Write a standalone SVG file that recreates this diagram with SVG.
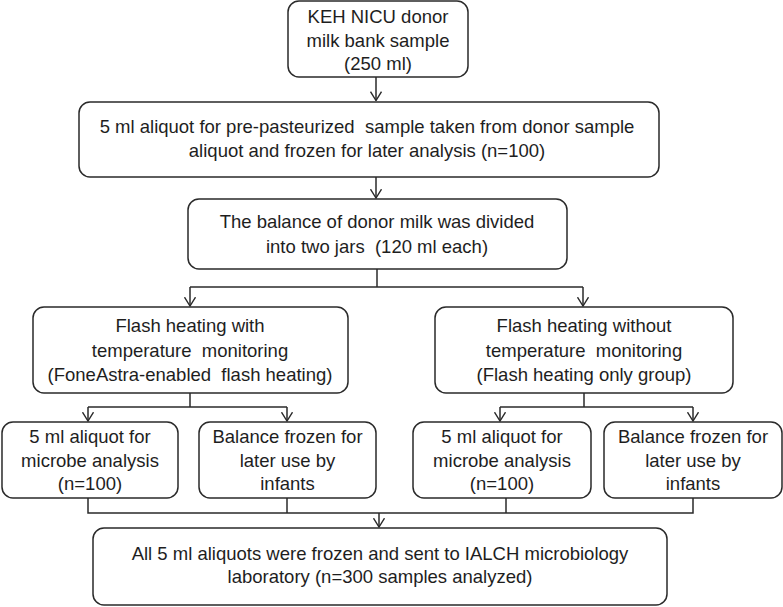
<svg xmlns="http://www.w3.org/2000/svg" width="783" height="607" viewBox="0 0 783 607">
<style>
  .box { fill: #ffffff; stroke: #2a2a2a; stroke-width: 1.5; }
  .t { font-family: "Liberation Sans", Arial, sans-serif; font-size: 18.5px; fill: #1e1e1e; text-anchor: middle; white-space: pre; }
  .c { fill: none; stroke: #2a2a2a; stroke-width: 1.5; }
</style>
<defs>
  <marker id="arr" viewBox="0 0 10 12" refX="9.3" refY="6" markerWidth="10" markerHeight="12" markerUnits="userSpaceOnUse" orient="auto">
    <path d="M0.5,0.5 L9.3,6 L0.5,11.5" fill="none" stroke="#2a2a2a" stroke-width="1.4"/>
  </marker>
</defs>
<rect width="783" height="607" fill="#ffffff"/>

<g id="connectors">
  <line class="c" x1="376" y1="77" x2="376" y2="100.5" marker-end="url(#arr)"/>
  <line class="c" x1="376" y1="177" x2="376" y2="198" marker-end="url(#arr)"/>
  <line class="c" x1="377" y1="269" x2="377" y2="287"/>
  <polyline class="c" points="190,287 583,287"/>
  <line class="c" x1="190" y1="287" x2="190" y2="306" marker-end="url(#arr)"/>
  <line class="c" x1="583" y1="287" x2="583" y2="306" marker-end="url(#arr)"/>
  <line class="c" x1="190" y1="393" x2="190" y2="407"/>
  <polyline class="c" points="88,407 287,407"/>
  <line class="c" x1="88" y1="407" x2="88" y2="421" marker-end="url(#arr)"/>
  <line class="c" x1="287" y1="407" x2="287" y2="421" marker-end="url(#arr)"/>
  <line class="c" x1="584" y1="393" x2="584" y2="407"/>
  <polyline class="c" points="500,407 693,407"/>
  <line class="c" x1="500" y1="407" x2="500" y2="421" marker-end="url(#arr)"/>
  <line class="c" x1="693" y1="407" x2="693" y2="421" marker-end="url(#arr)"/>
  <polyline class="c" points="88,498 88,513 693,513 693,498"/>
  <line class="c" x1="287" y1="498" x2="287" y2="513"/>
  <line class="c" x1="506" y1="498" x2="506" y2="513"/>
  <line class="c" x1="379" y1="513" x2="379" y2="527" marker-end="url(#arr)"/>
</g>

<g id="n1">
  <rect class="box" x="288" y="1" width="180" height="76" rx="11"/>
  <text class="t" x="378" y="23">KEH NICU donor</text>
  <text class="t" x="378" y="47">milk bank sample</text>
  <text class="t" x="378" y="70">(250 ml)</text>
</g>
<g id="n2">
  <rect class="box" x="79" y="102" width="580" height="75" rx="11"/>
  <text class="t" x="367" y="133">5 ml aliquot for pre-pasteurized  sample taken from donor sample</text>
  <text class="t" x="367" y="157">aliquot and frozen for later analysis (n=100)</text>
</g>
<g id="n3">
  <rect class="box" x="188" y="199" width="379" height="70" rx="11"/>
  <text class="t" x="377" y="228">The balance of donor milk was divided</text>
  <text class="t" x="377" y="253">into two jars  (120 ml each)</text>
</g>
<g id="n4">
  <rect class="box" x="33" y="307" width="315" height="86" rx="11"/>
  <text class="t" x="190" y="332">Flash heating with</text>
  <text class="t" x="190" y="357">temperature  monitoring</text>
  <text class="t" x="190" y="381">(FoneAstra-enabled  flash heating)</text>
</g>
<g id="n5">
  <rect class="box" x="435" y="307" width="298" height="86" rx="11"/>
  <text class="t" x="584" y="332">Flash heating without</text>
  <text class="t" x="584" y="357">temperature  monitoring</text>
  <text class="t" x="584" y="381">(Flash heating only group)</text>
</g>
<g id="n6">
  <rect class="box" x="2" y="422" width="176" height="76" rx="11"/>
  <text class="t" x="90" y="443">5 ml aliquot for</text>
  <text class="t" x="90" y="467">microbe analysis</text>
  <text class="t" x="90" y="490">(n=100)</text>
</g>
<g id="n7">
  <rect class="box" x="199" y="422" width="177" height="76" rx="11"/>
  <text class="t" x="287.5" y="443">Balance frozen for</text>
  <text class="t" x="287.5" y="467">later use by</text>
  <text class="t" x="287.5" y="490">infants</text>
</g>
<g id="n8">
  <rect class="box" x="413" y="422" width="178" height="76" rx="11"/>
  <text class="t" x="502" y="443">5 ml aliquot for</text>
  <text class="t" x="502" y="467">microbe analysis</text>
  <text class="t" x="502" y="490">(n=100)</text>
</g>
<g id="n9">
  <rect class="box" x="604" y="422" width="178" height="76" rx="11"/>
  <text class="t" x="693" y="443">Balance frozen for</text>
  <text class="t" x="693" y="467">later use by</text>
  <text class="t" x="693" y="490">infants</text>
</g>
<g id="n10">
  <rect class="box" x="93" y="528" width="574" height="77" rx="11"/>
  <text class="t" x="380" y="560">All 5 ml aliquots were frozen and sent to IALCH microbiology</text>
  <text class="t" x="380" y="583">laboratory (n=300 samples analyzed)</text>
</g>
</svg>
